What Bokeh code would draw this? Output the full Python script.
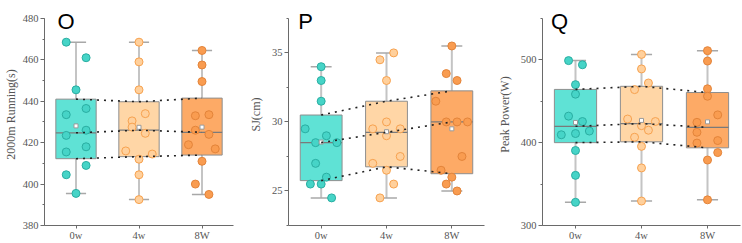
import numpy as np
from bokeh.plotting import figure
from bokeh.layouts import row
from bokeh.models import Label, FixedTicker, SingleIntervalTicker
from bokeh.embed import file_html
from bokeh.resources import INLINE

groups = ["0w", "4w", "8W"]

# 2000 m running time (s)
run_0w = [468.5, 461, 445.5, 436.5, 433.5, 426, 423.5, 418, 415.5, 409, 404.5, 395.5]
run_4w = [468.5, 459, 445.5, 434, 430.5, 427.5, 424.5, 416, 414.5, 412, 404.5, 392.5]
run_8w = [464.5, 457.5, 449.5, 433.5, 433, 426, 424, 419, 417, 411, 400, 395]

# Squat jump (cm)
sj_0w = [34, 33, 31.5, 29.5, 29, 28.5, 28.5, 27, 26, 25.5, 25.5, 24.5]
sj_4w = [34.5, 35, 33, 29.5, 30, 29.5, 29, 27.5, 27, 26.5, 25.5, 24.5]
sj_8w = [35.5, 33.5, 33, 31.5, 30, 30, 30, 27.5, 26.5, 26, 25.5, 25]

# Peak power (W)
pp_0w = [499, 494, 470, 458.5, 432, 425.5, 409.5, 411, 414, 390.5, 360.5, 328]
pp_4w = [506.5, 489, 472, 464, 428.5, 420.5, 415, 406.5, 395.5, 369.5, 329.5, 425.5]
pp_8w = [511, 498.5, 465, 456, 433.5, 424.5, 412.5, 402.5, 399.5, 388, 379, 331]

# horizontal scatter of the individual points (category units)
run_dx = [
    [-0.155, 0.16, 0, 0.16, -0.155, 0.16, -0.155, 0.16, -0.155, 0.16, -0.155, 0],
    [0, 0, 0, 0.10, -0.11, -0.11, 0.10, -0.21, 0.21, 0, 0, 0],
    [0, 0, 0, 0.11, -0.105, -0.105, 0.11, -0.215, 0.21, 0, -0.105, 0.11],
]
sj_dx = [
    [0, 0, 0, -0.245, 0.08, -0.085, 0.24, -0.085, 0.08, -0.165, 0, 0.16],
    [-0.10, 0.11, 0, -0.21, 0, 0.21, 0, 0.21, -0.21, 0, 0.11, -0.10],
    [0, -0.085, 0.08, -0.245, -0.085, 0.08, 0.24, 0.155, -0.165, 0, -0.085, 0.08],
]
pp_dx = [
    [-0.105, 0.105, 0, 0, -0.105, 0.105, -0.215, 0, 0.21, 0, 0, 0],
    [0, 0, 0.105, -0.105, -0.21, 0, 0.105, -0.105, 0, 0, 0, 0.21],
    [0, 0, 0, 0, 0.155, -0.16, -0.16, 0.155, -0.16, 0.155, 0, 0],
]

BOX_FILL = ["#5fe2d5", "#ffd6a6", "#fdaa66"]
PT_FILL = ["#46d4c7", "#ffd09c", "#f99c50"]
PT_LINE = ["#2aaea2", "#f7a24f", "#e3843a"]

PANELS = [
    dict(letter="O", label="2000m Running(s)", data=[run_0w, run_4w, run_8w], dx=run_dx,
         yr=(380, 480), step=20, width=245, left=35, right=12, lab_stand=2, lx=0.205),
    dict(letter="P", label="SJ(cm)", data=[sj_0w, sj_4w, sj_8w], dx=sj_dx,
         yr=(22.5, 37.5), step=5, width=245, left=41, right=6, lab_stand=6, lx=0.15),
    dict(letter="Q", label="Peak Power(W)", data=[pp_0w, pp_4w, pp_8w], dx=pp_dx,
         yr=(300, 550), step=100, width=252, left=52, right=2, lab_stand=6, lx=0.13),
]

H = 243
TOP = 3            # frame starts near the top; the value axis stops at its range end
AXIS_TOP = 18      # pixel row of the highest tick
AXIS_BOTTOM = 227  # pixel row of the category axis
SERIF = "Liberation Serif"


def make_panel(cfg):
    y0, y1 = cfg["yr"]
    per_px = (y1 - y0) / (AXIS_BOTTOM - AXIS_TOP)
    y_top = y1 + (AXIS_TOP - TOP) * per_px
    p = figure(width=cfg["width"], height=H, x_range=(0, 3), y_range=(y0, y_top),
               output_backend="svg", toolbar_location=None,
               min_border_left=cfg["left"], min_border_right=cfg["right"],
               min_border_top=TOP, min_border_bottom=H - AXIS_BOTTOM)
    p.outline_line_color = None
    p.xgrid.visible = False
    p.ygrid.visible = False
    p.background_fill_color = "white"
    p.border_fill_color = "white"

    centers = np.arange(3) + 0.5
    stats = []
    for vals in cfg["data"]:
        v = np.asarray(vals, dtype=float)
        q1 = np.percentile(v, 25, method="midpoint")
        med = np.percentile(v, 50, method="midpoint")
        q3 = np.percentile(v, 75, method="midpoint")
        stats.append((q1, med, q3, v.min(), v.max(), v.mean()))
    q1s, meds, q3s, los, his, means = [list(s) for s in zip(*stats)]

    hw = 0.32
    cap = 0.16
    # whiskers, behind the boxes
    p.segment(x0=centers, x1=centers, y0=los, y1=his, line_color="#c4c4c4", line_width=2)
    p.segment(x0=centers - cap, x1=centers + cap, y0=his, y1=his, line_color="#a8a8a8", line_width=1.5)
    p.segment(x0=centers - cap, x1=centers + cap, y0=los, y1=los, line_color="#a8a8a8", line_width=1.5)
    # boxes
    p.quad(left=centers - hw, right=centers + hw, bottom=q1s, top=q3s,
           fill_color=BOX_FILL, line_color="#8e8e8e", line_width=1)
    p.segment(x0=centers - hw, x1=centers + hw, y0=meds, y1=meds, line_color="#7a7a7a", line_width=1.2)

    # individual points
    for i, vals in enumerate(cfg["data"]):
        xs = [centers[i] + d for d in cfg["dx"][i]]
        p.scatter(xs, vals, size=8, marker="circle", fill_color=PT_FILL[i],
                  line_color=PT_LINE[i], line_width=1)

    # mean markers
    p.scatter(centers, means, marker="square", size=4, fill_color="white",
              line_color="#9a9a9a", line_width=1)

    # dotted trend lines through the quartiles and medians
    for ys in (q1s, meds, q3s):
        p.line(centers, ys, line_color="#222222", line_width=1.6, line_dash="2 5")

    # axes
    p.xaxis.ticker = FixedTicker(ticks=list(centers))
    p.xaxis.major_label_overrides = {float(c): g for c, g in zip(centers, groups)}
    p.yaxis.ticker = SingleIntervalTicker(interval=cfg["step"], num_minor_ticks=2)
    p.yaxis.bounds = (y0, y1)
    for ax in (p.xaxis[0], p.yaxis[0]):
        ax.axis_line_color = "#6a6a6a"
        ax.major_tick_line_color = "#6a6a6a"
        ax.minor_tick_line_color = "#6a6a6a"
        ax.major_tick_out = 3
        ax.major_tick_in = 0
        ax.minor_tick_out = 2
        ax.minor_tick_in = 0
        ax.major_label_text_font = SERIF
        ax.major_label_text_font_size = "10.5px"
        ax.major_label_text_color = "#555555"
        ax.major_label_text_line_height = 1.0
        ax.major_label_standoff = 1
    p.yaxis.major_tick_out = 4
    p.yaxis.major_label_standoff = 2
    p.xaxis.minor_tick_line_color = None
    p.yaxis.axis_label = cfg["label"]
    p.yaxis.axis_label_text_font = SERIF
    p.yaxis.axis_label_text_font_size = "12px"
    p.yaxis.axis_label_text_font_style = "normal"
    p.yaxis.axis_label_text_color = "#555555"
    p.yaxis.axis_label_standoff = cfg["lab_stand"]

    # panel letter, baseline just below the top tick
    p.add_layout(Label(x=cfg["lx"], y=y1 - 3.5 * per_px, text=cfg["letter"],
                       text_font="Liberation Sans", text_font_size="22px",
                       text_color="black", text_baseline="alphabetic", text_align="left"))
    return p


panels = [make_panel(c) for c in PANELS]
layout = row(*panels, spacing=0)

with open("out.html", "w") as f:
    f.write(file_html(layout, INLINE))
